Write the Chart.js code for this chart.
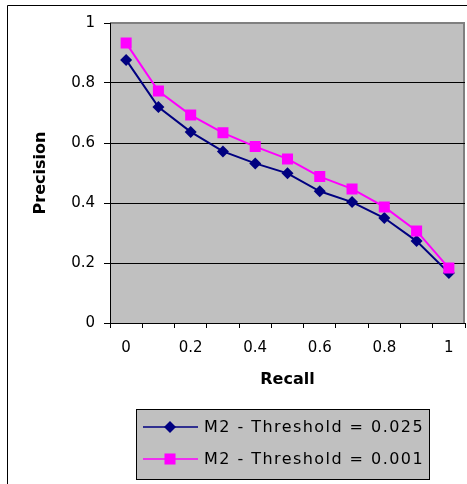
<!DOCTYPE html>
<html>
<head>
<meta charset="utf-8">
<script src="https://cdn.jsdelivr.net/npm/chart.js@4.4.1/dist/chart.umd.min.js"></script>
<style>
  html, body { margin: 0; padding: 0; background: #fff; }
  #wrap { width: 467px; height: 484px; position: relative; }
</style>
</head>
<body>
<div id="wrap"><canvas id="pr"></canvas></div>
<script>
// recall categories, every other one gets a label
let recall = ['0', '0.1', '0.2', '0.3', '0.4', '0.5', '0.6', '0.7', '0.8', '0.9', '1'];
let m2_025 = [0.877, 0.72, 0.637, 0.572, 0.532, 0.499, 0.439, 0.403, 0.35, 0.273, 0.167];
let m2_001 = [0.933, 0.773, 0.693, 0.634, 0.588, 0.547, 0.488, 0.447, 0.387, 0.307, 0.183];
let yTicks = [0, 0.2, 0.4, 0.6, 0.8, 1];

let seriesNames = ['M2 - Threshold = 0.025', 'M2 - Threshold = 0.001'];
let seriesColors = ['#000080', '#ff00ff'];
let seriesMarkers = ['rectRot', 'rect'];

Chart.defaults.font.family = 'DejaVu Sans';
Chart.defaults.font.size = 15;
Chart.defaults.color = '#000';

// grey plot area + outer frame + excel style legend box
let excelLook = {
    id: 'excelLook',
    beforeDraw(chart) {
        let ctx = chart.ctx;
        let a = chart.chartArea;
        ctx.save();
        ctx.fillStyle = '#fff';
        ctx.fillRect(0, 0, chart.width, chart.height);
        // outer frame
        ctx.strokeStyle = '#000';
        ctx.lineWidth = 1;
        ctx.beginPath();
        ctx.moveTo(7.5, chart.height);
        ctx.lineTo(7.5, 5.5);
        ctx.lineTo(chart.width, 5.5);
        ctx.stroke();
        ctx.fillStyle = '#c0c0c0';
        ctx.fillRect(a.left, a.top, a.right - a.left, a.bottom - a.top);
        ctx.strokeStyle = '#808080';
        ctx.lineWidth = 2;
        ctx.beginPath();
        ctx.moveTo(a.left, a.top);
        ctx.lineTo(a.right - 1, a.top);
        ctx.lineTo(a.right - 1, a.bottom);
        ctx.stroke();
        ctx.restore();
    },
    afterDraw(chart) {
        let ctx = chart.ctx;
        let bx = 136, by = 409, bw = 293, bh = 70;
        ctx.save();
        ctx.fillStyle = '#c0c0c0';
        ctx.fillRect(bx, by, bw, bh);
        ctx.strokeStyle = '#000';
        ctx.lineWidth = 1;
        ctx.strokeRect(bx + 0.5, by + 0.5, bw, bh);
        for (let i = 0; i < seriesNames.length; i++) {
            let y = 427 + i * 32;
            ctx.strokeStyle = seriesColors[i];
            ctx.lineWidth = 1.5;
            ctx.beginPath();
            ctx.moveTo(143, y);
            ctx.lineTo(198, y);
            ctx.stroke();
            ctx.fillStyle = seriesColors[i];
            Chart.helpers.drawPoint(ctx, {
                pointStyle: seriesMarkers[i],
                radius: i === 0 ? 6 : 7.8,
                borderWidth: 0
            }, 170, y);
            ctx.fillStyle = '#000';
            ctx.font = '16px "DejaVu Sans"';
            ctx.letterSpacing = '1.45px';
            ctx.textBaseline = 'middle';
            ctx.fillText(seriesNames[i], 204, y + 1);
        }
        ctx.restore();
    }
};

let pr = document.getElementById('pr').getContext('2d');

let prChart = new Chart(pr, {
    type: 'line',
    data: {
        labels: recall,
        datasets: [{
            label: seriesNames[0],
            data: m2_025,
            borderColor: seriesColors[0],
            backgroundColor: seriesColors[0],
            borderWidth: 2,
            pointStyle: seriesMarkers[0],
            pointRadius: 6,
            pointBorderWidth: 0,
            tension: 0,
            order: 1
        }, {
            label: seriesNames[1],
            data: m2_001,
            borderColor: seriesColors[1],
            backgroundColor: seriesColors[1],
            borderWidth: 2,
            pointStyle: seriesMarkers[1],
            pointRadius: 7.8,
            pointBorderWidth: 0,
            tension: 0,
            order: 0
        }]
    },
    options: {
        responsive: true,
        maintainAspectRatio: false,
        animation: false,
        layout: {
            autoPadding: false,
            padding: { top: 23, right: 2, left: 0, bottom: 81 }
        },
        plugins: {
            legend: { display: false },
            tooltip: { enabled: false }
        },
        scales: {
            x: {
                type: 'category',
                offset: true,
                afterFit: (scale) => {
                    scale.height = 80;
                    scale.paddingLeft = 0;
                    scale.paddingRight = 0;
                },
                grid: {
                    offset: true,
                    drawOnChartArea: false,
                    tickLength: 5,
                    tickColor: '#000'
                },
                border: { color: '#000', width: 1 },
                ticks: {
                    autoSkip: false,
                    maxRotation: 0,
                    padding: 11,
                    callback: function (v, i) {
                        return i % 2 === 0 ? this.getLabelForValue(v) : '';
                    }
                },
                title: {
                    display: true,
                    text: 'Recall',
                    font: { size: 16, weight: 'bold' },
                    padding: { top: 0, bottom: 14 }
                }
            },
            y: {
                min: 0,
                max: 1,
                afterFit: (scale) => { scale.width = 110; },
                afterBuildTicks: (scale) => {
                    scale.ticks = yTicks.map(v => ({ value: v }));
                },
                grid: {
                    color: (c) => (c.tick && c.tick.value === 1) ? 'rgba(0,0,0,0)' : '#000',
                    tickColor: '#000',
                    tickLength: 6
                },
                border: { color: '#000', width: 1 },
                ticks: {
                    padding: 9,
                    callback: (v) => String(v)
                },
                title: {
                    display: true,
                    text: 'Precision',
                    font: { size: 16, weight: 'bold' },
                    padding: { top: 31, bottom: 0 }
                }
            }
        }
    },
    plugins: [excelLook]
});
</script>
</body>
</html>
